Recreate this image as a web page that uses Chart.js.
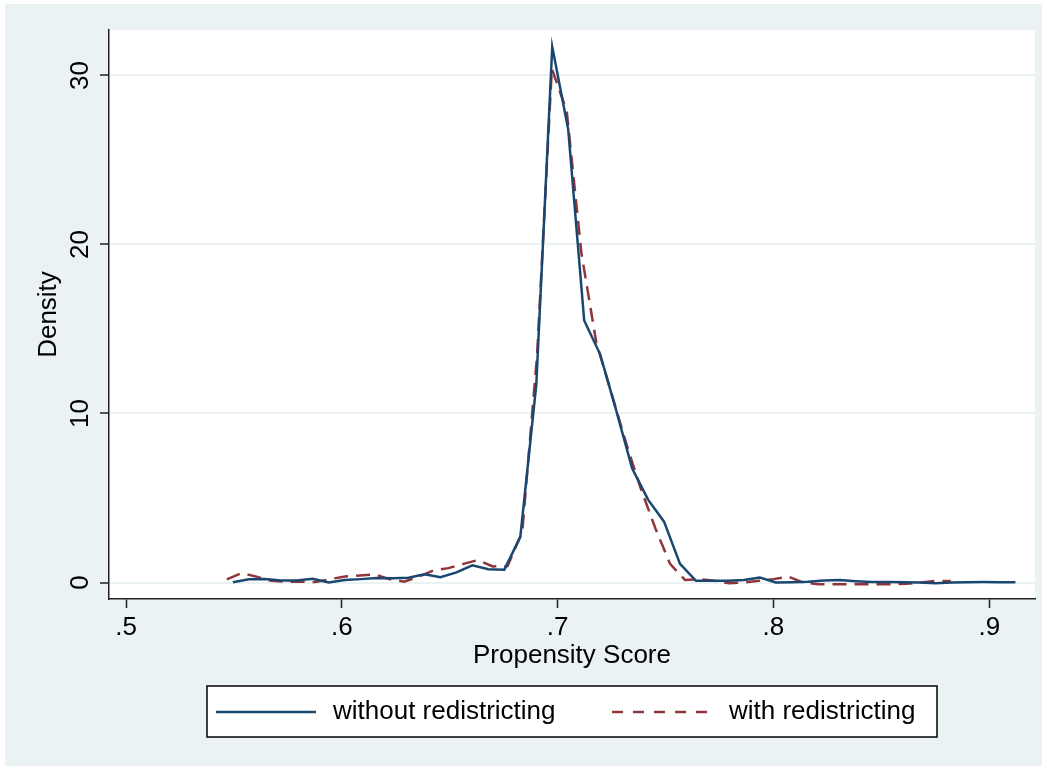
<!DOCTYPE html>
<html>
<head>
<meta charset="utf-8">
<script src="https://cdn.jsdelivr.net/npm/chart.js@4.4.1/dist/chart.umd.min.js"></script>
<style>
  html, body { margin: 0; padding: 0; background: #fff; }
  #wrap { width: 1047px; height: 770px; }
</style>
</head>
<body>
<div id="wrap"><canvas id="myChart" width="1047" height="770"></canvas></div>
<script>
// 시리즈 이름
var seriesNames = ['without redistricting', 'with redistricting'];

// without redistricting (파란 실선)
var xWithout = [0.5495, 0.5569, 0.5643, 0.5717, 0.5791, 0.5865, 0.5939, 0.6013, 0.6087, 0.6161,
                0.6235, 0.6309, 0.6383, 0.6457, 0.6531, 0.6605, 0.6679, 0.6753, 0.6827, 0.6901,
                0.6975, 0.7049, 0.7123, 0.7197, 0.7271, 0.7345, 0.7419, 0.7493, 0.7567, 0.7641,
                0.7715, 0.7789, 0.7863, 0.7937, 0.8011, 0.8085, 0.8159, 0.8233, 0.8307, 0.8381,
                0.8455, 0.8529, 0.8603, 0.8677, 0.8751, 0.8825, 0.8899, 0.8973, 0.9047, 0.9121];
var yWithout = [0.02, 0.19, 0.20, 0.12, 0.12, 0.22, 0.00, 0.15, 0.20, 0.27,
                0.25, 0.28, 0.49, 0.31, 0.60, 1.02, 0.78, 0.76, 2.70, 11.7,
                31.7, 26.8, 15.5, 13.5, 10.2, 6.76, 4.90, 3.60, 1.10, 0.10,
                0.10, 0.10, 0.15, 0.30, 0.00, 0.02, 0.05, 0.12, 0.15, 0.08,
                0.03, 0.03, 0.01, 0.00, -0.04, 0.00, 0.02, 0.03, 0.02, 0.02];

// with redistricting (빨간 점선)
var xWith = [0.5467, 0.5535, 0.5604, 0.5672, 0.5741, 0.5809, 0.5878, 0.5946, 0.6015, 0.6083,
             0.6152, 0.6220, 0.6289, 0.6357, 0.6426, 0.6494, 0.6563, 0.6631, 0.6699, 0.6768,
             0.6836, 0.6905, 0.6973, 0.7042, 0.7110, 0.7179, 0.7247, 0.7316, 0.7384, 0.7453,
             0.7521, 0.7590, 0.7658, 0.7727, 0.7795, 0.7863, 0.7932, 0.8000, 0.8069, 0.8137,
             0.8206, 0.8274, 0.8343, 0.8411, 0.8480, 0.8548, 0.8617, 0.8685, 0.8754, 0.8822];
var yWith = [0.19, 0.55, 0.35, 0.10, 0.05, 0.05, 0.03, 0.20, 0.36, 0.42,
             0.48, 0.20, 0.05, 0.35, 0.72, 0.85, 1.10, 1.33, 0.95, 0.97,
             3.00, 13.5, 30.4, 27.9, 19.5, 14.2, 11.3, 8.30, 5.60, 3.20,
             1.10, 0.15, 0.20, 0.10, -0.05, 0.00, 0.10, 0.20, 0.35, 0.00,
             -0.10, -0.10, -0.10, -0.10, -0.10, -0.10, -0.08, 0.00, 0.10, 0.09];

// 축 범위
var xRange = [0.4921, 0.9212];
var yRange = [-0.976, 32.69];

function toPoints(xs, ys) {
    var pts = [];
    for (var i = 0; i < xs.length; i++) pts.push({ x: xs[i], y: ys[i] });
    return pts;
}

var FONT = '"Liberation Sans", Arial, Helvetica, sans-serif';
var FSIZE = 26;
Chart.defaults.font.family = FONT;
Chart.defaults.color = '#000';

// 배경: 바깥 회색 + 플롯 영역 흰색
var bgPlugin = {
    id: 'stataBg',
    beforeDraw: function(chart) {
        var ctx = chart.ctx, a = chart.chartArea;
        ctx.save();
        ctx.fillStyle = '#ffffff';
        ctx.fillRect(0, 0, chart.width, chart.height);
        ctx.fillStyle = '#eaf2f3';
        ctx.fillRect(5, 4, chart.width - 10, chart.height - 8);
        ctx.fillStyle = '#ffffff';
        ctx.fillRect(a.left, a.top, a.right - a.left, a.bottom - a.top);
        ctx.restore();
    }
};

// 테두리 있는 범례
var legendPlugin = {
    id: 'boxLegend',
    afterDraw: function(chart) {
        var ctx = chart.ctx;
        var ds = chart.data.datasets;
        var lineX = [216, 612];
        var cy = 712;
        ctx.save();
        ctx.fillStyle = '#ffffff';
        ctx.fillRect(207, 686, 730, 51);
        ctx.strokeStyle = '#000';
        ctx.lineWidth = 1.5;
        ctx.strokeRect(207, 686, 730, 51);
        ctx.font = FSIZE + 'px ' + FONT;
        ctx.textBaseline = 'middle';
        ctx.textAlign = 'left';
        for (var i = 0; i < ds.length; i++) {
            ctx.beginPath();
            ctx.setLineDash(ds[i].borderDash ? [11, 10] : []);
            ctx.strokeStyle = ds[i].borderColor;
            ctx.lineWidth = ds[i].borderWidth;
            ctx.moveTo(lineX[i], cy);
            ctx.lineTo(lineX[i] + 100, cy);
            ctx.stroke();
            ctx.setLineDash([]);
            ctx.fillStyle = '#000';
            ctx.fillText(ds[i].label, lineX[i] + 117, cy);
        }
        ctx.restore();
    }
};

var ctx = document.getElementById('myChart').getContext('2d');
var myChart = new Chart(ctx, {
    type: 'line',
    data: {
        datasets: [{
            label: seriesNames[0],
            data: toPoints(xWithout, yWithout),
            borderColor: '#1a476f',
            borderWidth: 2.5,
            pointRadius: 0,
            tension: 0,
            fill: false
        }, {
            label: seriesNames[1],
            data: toPoints(xWith, yWith),
            borderColor: '#90353b',
            borderWidth: 2.5,
            borderDash: [14, 8],
            pointRadius: 0,
            tension: 0,
            fill: false
        }]
    },
    options: {
        responsive: false,
        animation: false,
        devicePixelRatio: 1,
        layout: { padding: { left: 0, top: 30, right: 12, bottom: 99 } },
        plugins: {
            legend: { display: false },
            tooltip: { enabled: false }
        },
        scales: {
            x: {
                type: 'linear',
                min: xRange[0],
                max: xRange[1],
                ticks: {
                    stepSize: 0.1,
                    includeBounds: false,
                    padding: 4,
                    font: { size: FSIZE },
                    color: '#000',
                    callback: function(v) { return '.' + Math.round(v * 10); }
                },
                grid: {
                    drawOnChartArea: false,
                    drawTicks: true,
                    tickLength: 9,
                    tickColor: '#222',
                    tickWidth: 1.5
                },
                border: { display: true, color: '#222', width: 1.5 },
                title: {
                    display: true,
                    text: 'Propensity Score',
                    font: { size: FSIZE },
                    color: '#000',
                    padding: { top: 0, bottom: 0 }
                },
                afterFit: function(scale) { scale.height = 72; }
            },
            y: {
                min: yRange[0],
                max: yRange[1],
                ticks: {
                    stepSize: 10,
                    includeBounds: false,
                    minRotation: 90,
                    maxRotation: 90,
                    crossAlign: 'center',
                    padding: 5,
                    font: { size: FSIZE },
                    color: '#000'
                },
                grid: {
                    color: '#eaf2f3',
                    lineWidth: 2,
                    drawTicks: true,
                    tickLength: 9,
                    tickColor: '#222',
                    tickWidth: 1.5
                },
                border: { display: true, color: '#222', width: 1.5 },
                title: {
                    display: true,
                    text: 'Density',
                    font: { size: FSIZE },
                    color: '#000',
                    padding: { top: 33, bottom: 0 }
                },
                afterFit: function(scale) { scale.width = 109; }
            }
        }
    },
    plugins: [bgPlugin, legendPlugin]
});
</script>
</body>
</html>
